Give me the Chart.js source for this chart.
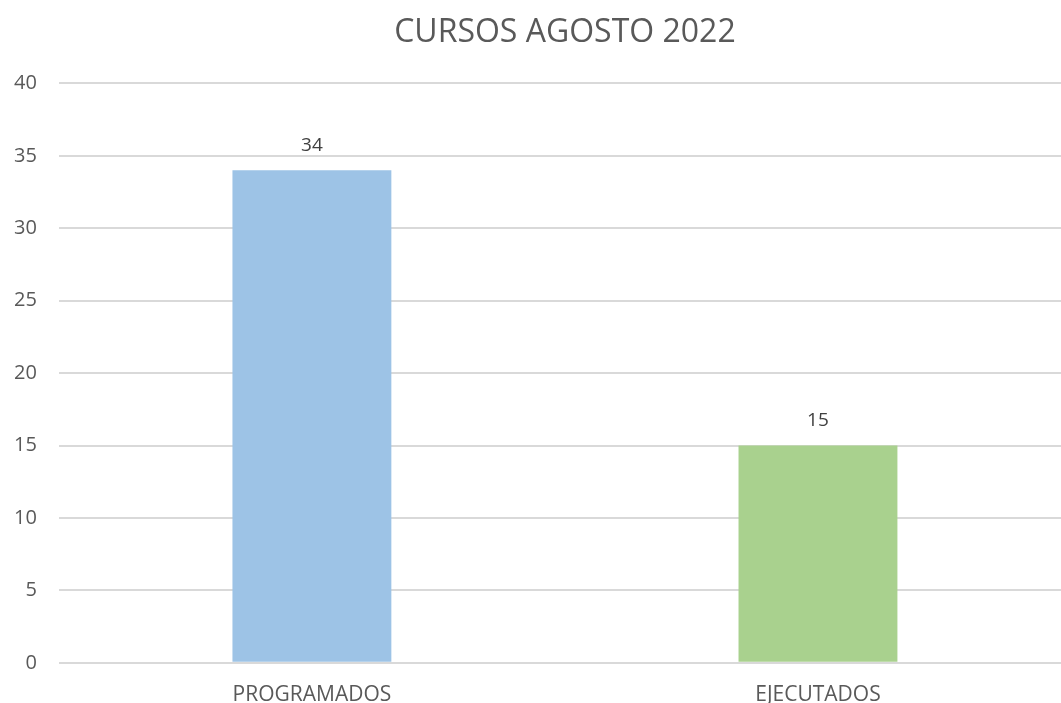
<!DOCTYPE html>
<html>
<head>
<meta charset="utf-8">
<script src="https://cdn.jsdelivr.net/npm/chart.js@4"></script>
<style>
  html, body { margin: 0; padding: 0; background: #fff; overflow: hidden; }
  #wrap { width: 1071px; height: 703px; }
</style>
</head>
<body>
<div id="wrap"><canvas id="chart"></canvas></div>
<script>
// Data
const categories = ['PROGRAMADOS', 'EJECUTADOS'];
const courseCounts = [34, 15];
const barColors = ['#9DC3E6', '#A9D18E'];
const yTicks = [0, 5, 10, 15, 20, 25, 30, 35, 40];

const textColor = '#595959';
const fontFamily = "'Open Sans', 'Liberation Sans', sans-serif";

// Draw value labels above each bar
const valueLabels = {
  id: 'valueLabels',
  afterDatasetsDraw(chart) {
    const ctx = chart.ctx;
    const meta = chart.getDatasetMeta(0);
    ctx.save();
    ctx.fillStyle = '#404040';
    ctx.font = `19px ${fontFamily}`;
    ctx.textAlign = 'center';
    ctx.textBaseline = 'middle';
    meta.data.forEach((bar, i) => {
      ctx.fillText(courseCounts[i], bar.x, bar.y - 25);
    });
    ctx.restore();
  }
};

new Chart(document.getElementById('chart'), {
  type: 'bar',
  data: {
    labels: categories,
    datasets: [{
      data: courseCounts,
      backgroundColor: barColors,
      categoryPercentage: 0.314,
      barPercentage: 1
    }]
  },
  options: {
    responsive: true,
    maintainAspectRatio: false,
    animation: false,
    layout: { padding: { left: -8, right: 0, top: 12, bottom: -17 } },
    plugins: {
      legend: { display: false },
      tooltip: { enabled: false },
      title: {
        display: true,
        text: 'CURSOS AGOSTO 2022',
        color: textColor,
        fullSize: false,
        font: { family: fontFamily, size: 32, weight: 'normal' },
        padding: { top: 2, bottom: 31 }
      }
    },
    scales: {
      x: {
        grid: { display: false },
        border: { display: false },
        ticks: {
          color: textColor,
          font: { family: fontFamily, size: 21 },
          padding: 12
        }
      },
      y: {
        min: 0,
        max: 40,
        afterBuildTicks(axis) {
          axis.ticks = yTicks.map(v => ({ value: v }));
        },
        grid: { color: '#D9D9D9', lineWidth: 2, drawTicks: false },
        border: { display: false },
        ticks: {
          color: textColor,
          font: { family: fontFamily, size: 20 },
          padding: 22
        }
      }
    }
  },
  plugins: [valueLabels]
});
</script>
</body>
</html>
